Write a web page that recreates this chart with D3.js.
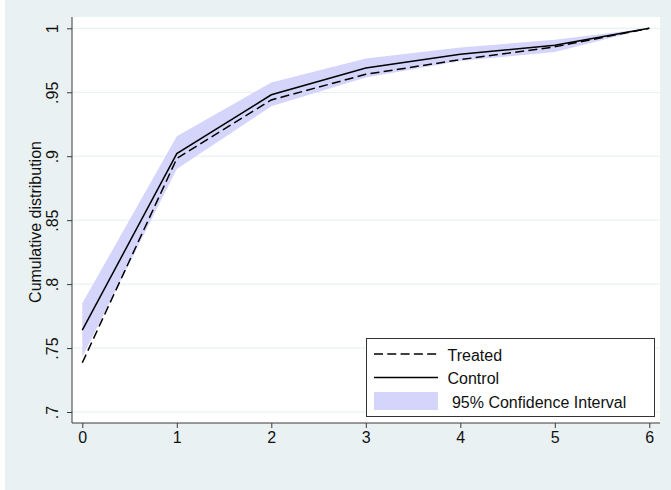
<!DOCTYPE html>
<html><head><meta charset="utf-8">
<script src="https://cdn.jsdelivr.net/npm/d3@7"></script>
<style>
html,body{margin:0;padding:0;background:#fff;}
svg{display:block;font-family:"Liberation Sans",Arial,Helvetica,sans-serif;}
</style></head>
<body><svg id="c" width="671" height="490"></svg>
<script>
const xValues = [0, 1, 2, 3, 4, 5, 6];
const treated = [0.7385, 0.8982, 0.9440, 0.9640, 0.9755, 0.9855, 1.0];
const control = [0.7640, 0.9020, 0.9480, 0.9690, 0.9797, 0.9867, 1.0];
const ciLower = [0.7430, 0.8900, 0.9390, 0.9615, 0.9745, 0.9815, 1.0];
const ciUpper = [0.7850, 0.9156, 0.9576, 0.9763, 0.9850, 0.9910, 1.0];
const xTicks = [0, 1, 2, 3, 4, 5, 6];
const yTicks = [0.7, 0.75, 0.8, 0.85, 0.9, 0.95, 1];
const yTickLabels = [".7", ".75", ".8", ".85", ".9", ".95", "1"];
const legendLabels = ["Treated", "Control", " 95% Confidence Interval"];

const svg = d3.select("#c");
const W = 671, H = 490;
const plot = {l: 72, r: 660, t: 17, b: 423};

svg.append("rect").attr("x", 5).attr("y", 0).attr("width", W - 5).attr("height", H).attr("fill", "#eaf1f3");
svg.append("rect").attr("x", plot.l).attr("y", plot.t).attr("width", plot.r - plot.l).attr("height", plot.b - plot.t).attr("fill", "#fff");

const x = d3.scaleLinear().domain([0, 6]).range([82.3, 649.3]);
const y = d3.scaleLinear().domain([0.7, 1]).range([412, 28.3]);

// grid
svg.append("g").selectAll("line").data(yTicks).join("line")
  .attr("x1", plot.l).attr("x2", plot.r)
  .attr("y1", d => y(d)).attr("y2", d => y(d))
  .attr("stroke", "#e4eef0").attr("stroke-width", 1);

const data = xValues.map((v, i) => ({x: v, t: treated[i], c: control[i], lo: ciLower[i], hi: ciUpper[i]}));

svg.append("path").datum(data)
  .attr("d", d3.area().x(d => x(d.x)).y0(d => y(d.lo)).y1(d => y(d.hi)))
  .attr("fill", "#d5d5fb");

svg.append("path").datum(data)
  .attr("d", d3.line().x(d => x(d.x)).y(d => y(d.c)))
  .attr("fill", "none").attr("stroke", "#000").attr("stroke-width", 1.5);

svg.append("path").datum(data)
  .attr("d", d3.line().x(d => x(d.x)).y(d => y(d.t)))
  .attr("fill", "none").attr("stroke", "#000").attr("stroke-width", 1.5)
  .attr("stroke-dasharray", "9,4.3");

// axes
const yAxis = svg.append("g").attr("transform", `translate(${plot.l},0)`)
  .call(d3.axisLeft(y).tickValues(yTicks).tickFormat((d, i) => yTickLabels[i]).tickSize(5).tickSizeOuter(0));
yAxis.select(".domain").attr("d", `M0,${plot.t}V${plot.b}`).attr("stroke", "#3a3a3a");
yAxis.selectAll(".tick line").attr("stroke", "#3a3a3a");
yAxis.selectAll(".tick text")
  .attr("font-size", 16).attr("fill", "#111")
  .attr("text-anchor", "middle")
  .attr("x", 0).attr("y", 0).attr("dy", 0)
  .attr("transform", "translate(-14,0) rotate(-90)");

const xAxis = svg.append("g").attr("transform", `translate(0,${plot.b})`)
  .call(d3.axisBottom(x).tickValues(xTicks).tickFormat(d3.format("d")).tickSize(5).tickSizeOuter(0));
xAxis.select(".domain").attr("d", `M${plot.l},0H${plot.r}`).attr("stroke", "#3a3a3a");
xAxis.selectAll(".tick line").attr("stroke", "#3a3a3a");
xAxis.selectAll(".tick text").attr("font-size", 16).attr("fill", "#111").attr("y", 9).attr("dy", "0.71em");

svg.append("text").attr("transform", `translate(41,${(plot.t + plot.b) / 2 + 2}) rotate(-90)`)
  .attr("text-anchor", "middle").attr("font-size", 16).attr("fill", "#111")
  .text("Cumulative distribution");

// legend
const lg = svg.append("g");
lg.append("rect").attr("x", 366.5).attr("y", 338.5).attr("width", 288).attr("height", 78)
  .attr("fill", "#fff").attr("stroke", "#333").attr("stroke-width", 1);
lg.append("line").attr("x1", 374).attr("x2", 438).attr("y1", 354).attr("y2", 354)
  .attr("stroke", "#000").attr("stroke-width", 1.5).attr("stroke-dasharray", "9,4.3");
lg.append("line").attr("x1", 374).attr("x2", 438).attr("y1", 377.5).attr("y2", 377.5)
  .attr("stroke", "#000").attr("stroke-width", 1.5);
lg.append("rect").attr("x", 374).attr("y", 392).attr("width", 64).attr("height", 18).attr("fill", "#d5d5fb");
const ly = [355, 378.5, 402];
lg.selectAll("text.l").data(legendLabels).join("text").attr("class", "l")
  .attr("x", 447.5).attr("y", (d, i) => ly[i]).attr("dy", "0.35em")
  .attr("font-size", 16).attr("fill", "#111")
  .style("white-space", "pre")
  .text(d => d);
</script></body></html>
